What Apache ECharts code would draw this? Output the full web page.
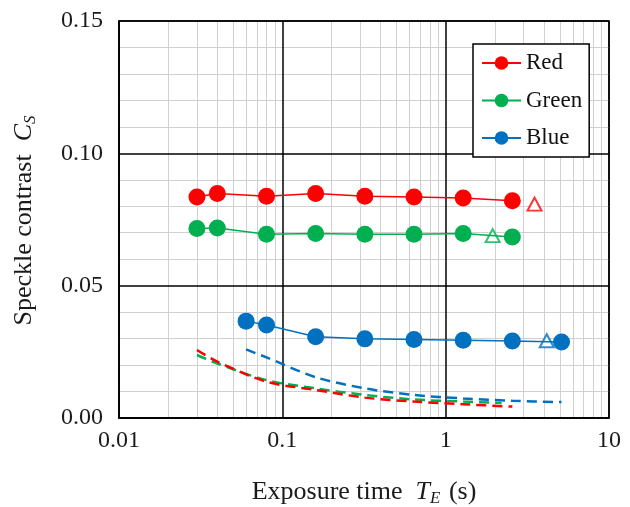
<!DOCTYPE html>
<html>
<head>
<meta charset="utf-8">
<script src="https://cdn.jsdelivr.net/npm/echarts@6/dist/echarts.min.js"></script>
<style>
  html, body { margin: 0; padding: 0; background: #fff; }
  #chart { width: 630px; height: 507px; }
</style>
</head>
<body>
<div id="chart"></div>
<script>
// measured series (exposure time in s, speckle contrast)
const redX = [0.03, 0.04, 0.08, 0.16, 0.32, 0.64, 1.28, 2.56];
const redC = [0.0835, 0.0848, 0.0838, 0.0848, 0.0838, 0.0835, 0.0831, 0.0821];
const greenX = [0.03, 0.04, 0.08, 0.16, 0.32, 0.64, 1.28, 2.56];
const greenC = [0.0716, 0.0718, 0.0694, 0.0697, 0.0694, 0.0694, 0.0697, 0.0684];
const blueX = [0.06, 0.08, 0.16, 0.32, 0.64, 1.28, 2.56, 5.12];
const blueC = [0.0366, 0.0351, 0.0307, 0.0299, 0.0297, 0.0294, 0.0291, 0.0287];

// open triangles
const redTri = [3.5, 0.0808];
const greenTri = [1.94, 0.0689];
const blueTri = [4.16, 0.0292];

// dashed curves
const redDashX = [0.03, 0.04, 0.08, 0.16, 0.32, 0.64, 1.28, 2.56];
const redDashC = [0.0257, 0.0213, 0.0137, 0.0106, 0.0077, 0.0062, 0.0052, 0.0043];
const greenDashX = [0.03, 0.04, 0.08, 0.16, 0.32, 0.64, 1.28, 2.2];
const greenDashC = [0.0238, 0.0206, 0.0143, 0.0112, 0.0087, 0.0070, 0.0062, 0.0057];
const blueDashX = [0.06, 0.08, 0.16, 0.32, 0.64, 1.28, 2.56, 5.12];
const blueDashC = [0.0259, 0.0229, 0.0154, 0.0112, 0.0087, 0.0074, 0.0065, 0.0060];

// minor log grid positions
const minorX = [0.02, 0.03, 0.04, 0.05, 0.06, 0.07, 0.08, 0.09,
                0.2, 0.3, 0.4, 0.5, 0.6, 0.7, 0.8, 0.9,
                2, 3, 4, 5, 6, 7, 8, 9];

const serif = "'Times New Roman', 'Liberation Serif', serif";
const INK = '#1a1a1a';
const RED = '#ff0000', GREEN = '#00b050', BLUE = '#0070c0';

const zip = (xs, ys) => xs.map((x, i) => [x, ys[i]]);

function mainSeries(name, color, xs, ys) {
    return {
        name: name,
        type: 'line',
        data: zip(xs, ys),
        symbol: 'circle',
        symbolSize: 17,
        color: color,
        lineStyle: { color: color, width: 1.5 },
        itemStyle: { color: color },
        z: 4
    };
}
function triSeries(color, pt) {
    return {
        type: 'scatter',
        data: [pt],
        symbol: 'triangle',
        symbolSize: [14, 13],
        itemStyle: { color: '#fff', borderColor: color, borderWidth: 2 },
        z: 3
    };
}
function dashSeries(color, xs, ys) {
    return {
        type: 'line',
        data: zip(xs, ys),
        showSymbol: false,
        smooth: 0.3,
        lineStyle: { color: color, width: 2.5, type: [10, 6] },
        z: 2
    };
}

const titleRich = {
    i: { fontSize: 26, fontStyle: 'italic', fontFamily: serif, color: INK, lineHeight: 30 },
    sub: { fontSize: 17, fontStyle: 'italic', fontFamily: serif, color: INK,
           verticalAlign: 'bottom', padding: [13, 2, 0, 0] }
};

const chart = echarts.init(document.getElementById('chart'));
chart.setOption({
    animation: false,
    textStyle: { fontFamily: serif },
    grid: {
        left: 119, right: 21, top: 21, bottom: 89,
        outerBoundsMode: 'none',
        show: true, borderColor: '#000', borderWidth: 1.5
    },
    legend: {
        data: ['Red', 'Green', 'Blue'],
        orient: 'vertical',
        left: 473, top: 44,
        z: 10,
        itemWidth: 39, itemHeight: 17,
        itemGap: 14.5,
        padding: [7.5, 7, 7.5, 8],
        backgroundColor: '#fff',
        borderColor: '#000', borderWidth: 1.5,
        textStyle: { fontFamily: serif, fontSize: 23, color: '#111' }
    },
    xAxis: {
        type: 'log', logBase: 10, min: 0.01, max: 10,
        axisLine: { lineStyle: { color: '#000', width: 1.5 } },
        axisTick: { show: false },
        axisLabel: { fontSize: 24, color: INK, margin: 11, fontFamily: serif },
        splitLine: { show: true, lineStyle: { color: '#000', width: 1.5 } },
        name: 'Exposure time  {i|T}{sub|E} (s)',
        nameLocation: 'middle', nameGap: 59,
        nameTextStyle: { fontSize: 26, color: INK, fontFamily: serif, lineHeight: 30, rich: titleRich }
    },
    yAxis: {
        type: 'value', min: 0, max: 0.15, interval: 0.05,
        axisLine: { show: true, lineStyle: { color: '#000', width: 1.5 } },
        axisTick: { show: false },
        axisLabel: { fontSize: 24, color: INK, margin: 16, fontFamily: serif,
                     formatter: v => v.toFixed(2) },
        splitLine: { show: true, lineStyle: { color: '#000', width: 1.5 } },
        minorTick: { show: false, splitNumber: 5 },
        minorSplitLine: { show: true, lineStyle: { color: '#d0d0d0', width: 1 } },
        name: 'Speckle contrast  {i|C}{sub|S}',
        nameLocation: 'middle', nameGap: 80,
        nameTextStyle: { fontSize: 26, color: INK, fontFamily: serif, lineHeight: 30, rich: titleRich }
    },
    series: [
        {
            // minor vertical grid lines for the log axis
            type: 'line',
            data: [],
            z: -1,
            silent: true,
            markLine: {
                z: -1,
                silent: true,
                symbol: 'none',
                label: { show: false },
                animation: false,
                lineStyle: { color: '#d0d0d0', width: 1, type: 'solid' },
                data: minorX.map(x => ({ xAxis: x }))
            }
        },
        dashSeries(BLUE, blueDashX, blueDashC),
        dashSeries(GREEN, greenDashX, greenDashC),
        dashSeries(RED, redDashX, redDashC),
        mainSeries('Red', RED, redX, redC),
        mainSeries('Green', GREEN, greenX, greenC),
        mainSeries('Blue', BLUE, blueX, blueC),
        triSeries(RED, redTri),
        triSeries(GREEN, greenTri),
        triSeries(BLUE, blueTri)
    ]
});
</script>
</body>
</html>
